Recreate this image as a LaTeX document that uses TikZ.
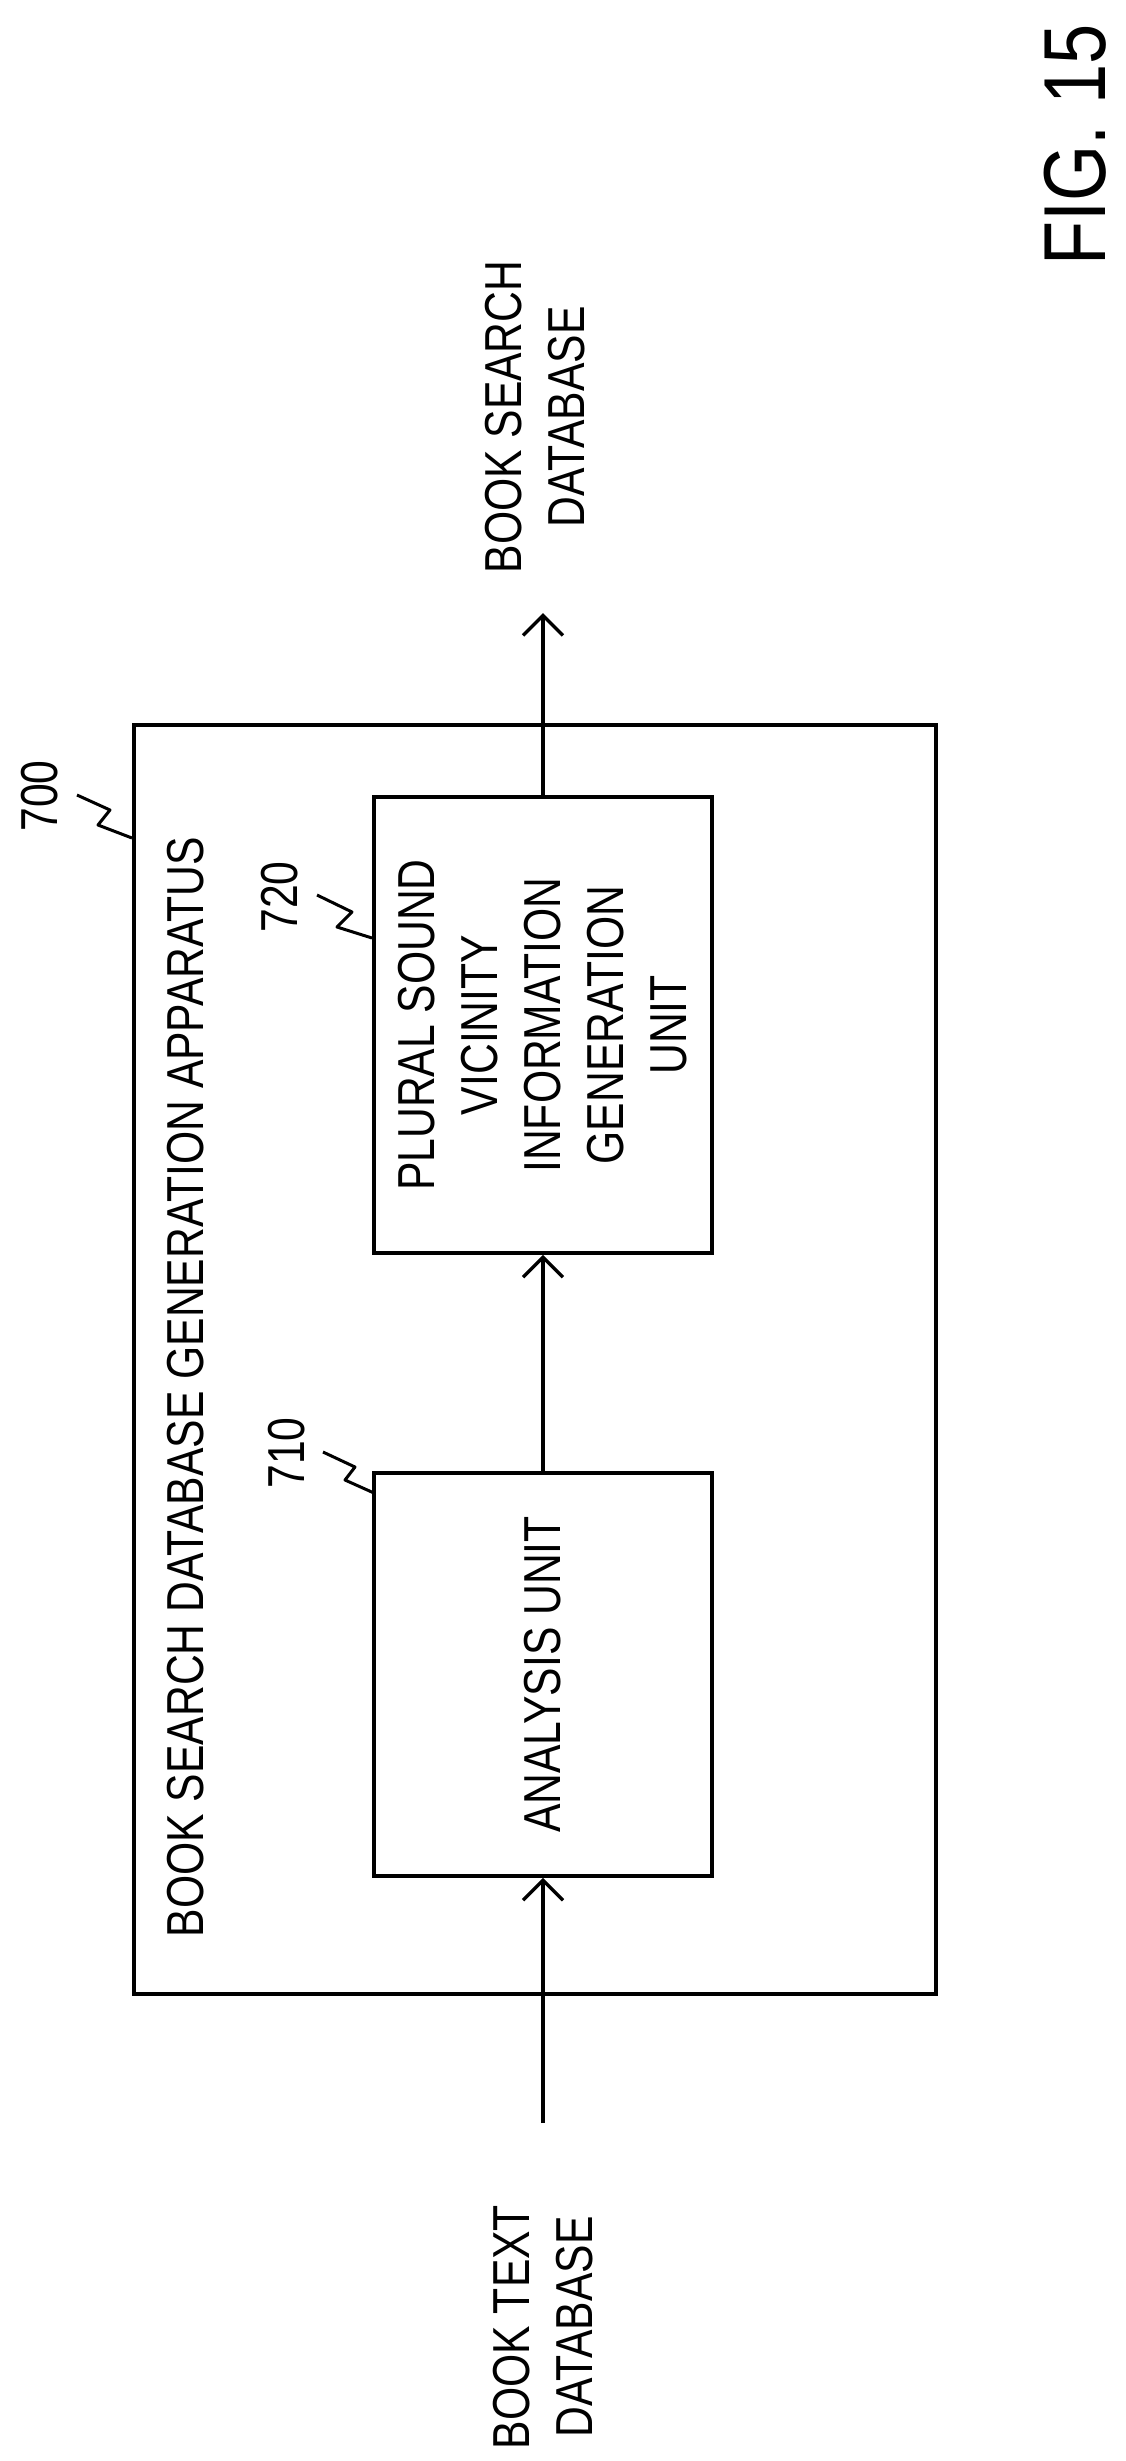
\documentclass[tikz,border=0pt]{standalone}
\usepackage{fontspec}
\setmainfont{Liberation Sans}
\usetikzlibrary{arrows.meta}
\newcommand{\nar}[1]{\scalebox{0.82}[1]{#1}}
\begin{document}
\begin{tikzpicture}[x=1pt,y=-1pt,
  line width=3.5pt,
  box/.style={draw,line width=3.5pt},
  lbl/.style={rotate=90,align=center,font=\fontsize{52}{63}\selectfont,inner sep=0},
  sq/.style={line width=3pt,line join=round},
  arr/.style={-{Straight Barb[length=20pt,width=40pt,line width=3.5pt]}}]
\useasboundingbox (0,0) rectangle (1126,2461);
\draw[box] (134,725) rectangle (936,1994);
\node[box,minimum width=338pt,minimum height=403pt,inner sep=0] (an) at (543,1674.5) {};
\node[box,minimum width=338pt,minimum height=456pt,inner sep=0] (pl) at (543,1025) {};
\node[lbl] at (an.center) {\nar{ANALYSIS UNIT}};
\node[lbl] at (pl.center) {\nar{PLURAL SOUND}\\\nar{VICINITY}\\\nar{INFORMATION}\\\nar{GENERATION}\\\nar{UNIT}};
\node[lbl,anchor=center] (ttl) at (186,1387) {\nar{BOOK SEARCH DATABASE GENERATION APPARATUS}};
\node[lbl] (in) at (543,2327) {\nar{BOOK TEXT}\\\nar{DATABASE}};
\node[lbl] (out) at (535,417) {\nar{BOOK SEARCH}\\\nar{DATABASE}};
\coordinate (s) at (543,2123);
\coordinate (t) at (543,613);
\draw[arr] (s) -- (an.south);
\draw[arr] (an.north) -- (pl.south);
\draw[arr] (pl.north) -- (t);
\node[lbl] (n700) at (40,796) {\nar{700}};
\node[lbl] (n720) at (280,897) {\nar{720}};
\node[lbl] (n710) at (287,1453) {\nar{710}};
\draw[sq] (77,795) -- (110,810) -- (98,825) -- (132,838);
\draw[sq] (317,895) -- (352,912) -- (337,927) -- (372,938);
\draw[sq] (323,1452) -- (355,1467) -- (345,1480) -- (374,1493);
\node[rotate=90,font=\fontsize{88}{96}\selectfont,inner sep=0] (fig) at (1075,145) {\nar{FIG. 15}};
\end{tikzpicture}
\end{document}
